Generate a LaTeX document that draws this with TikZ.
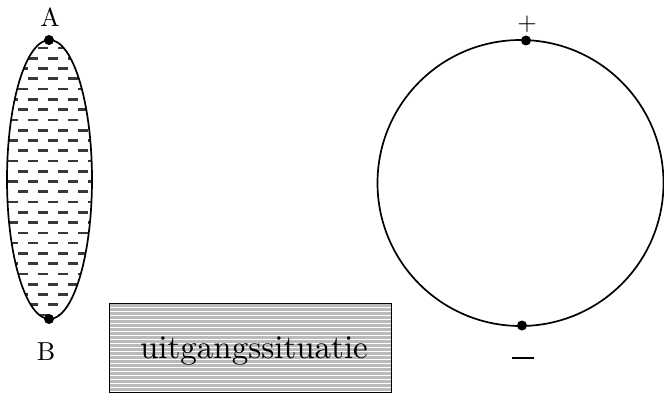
\documentclass[tikz,border=0pt]{standalone}
\usepackage{fontspec}
\setmainfont{lmroman10-regular.otf}
\begin{document}
\begin{tikzpicture}[x=1pt,y=-1pt,
  dot/.style={circle,fill=black,inner sep=0pt,minimum size=10pt},
  lbl/.style={font=\fontsize{26}{28}\selectfont,inner sep=0pt},
  dashmark/.style={line width=2.7pt,draw=black!78},
  outline/.style={line width=1.7pt}]
\useasboundingbox (0,0) rectangle (664,393);
% ellipse with dash pattern
\begin{scope}
  \clip (49.5,179.5) ellipse [x radius=42.5, y radius=139.5];
  \foreach \r in {0,...,26}{
    \pgfmathsetmacro{\yy}{48+\r*10.27}
    \pgfmathsetmacro{\off}{mod(\r,2)*10}
    \foreach \c in {0,...,5}{
      \draw[dashmark] ({-2+\off+\c*20},\yy) -- ++(10,0);
    }
  }
\end{scope}
\draw[outline] (49.5,179.5) ellipse [x radius=42.5, y radius=139.5];
\node[dot] (A) at (49,40) {};
\node[dot] (B) at (49,319) {};
\node[lbl] (la) at (50,17) {A};
\node[lbl] (lb) at (46,352) {B};
% box
\begin{scope}
  \clip (109,303) rectangle (391,392);
  \fill[white] (109,303) rectangle (391,392);
  \foreach \k in {0,...,22}{
    \draw[black!27,line width=2.8pt] (109,{305.5+\k*4}) -- (391,{305.5+\k*4});
  }
\end{scope}
\draw[line width=0.9pt] (109,303) rectangle (391,392);
\node[inner sep=0pt,anchor=base,font=\fontsize{33}{36}\selectfont] (t) at (254,358) {uitgangssituatie};
% circle
\draw[outline] (520.5,183) circle [radius=143];
\node[dot] (P) at (526,40.5) {};
\node[dot] (M) at (522,325.5) {};
\node[lbl,font=\fontsize{25}{28}\selectfont] (lp) at (527,24) {+};
\coordinate (m1) at (512,358);
\coordinate (m2) at (534,358);
\draw[line width=1.6pt] (m1) -- (m2);
\end{tikzpicture}
\end{document}
